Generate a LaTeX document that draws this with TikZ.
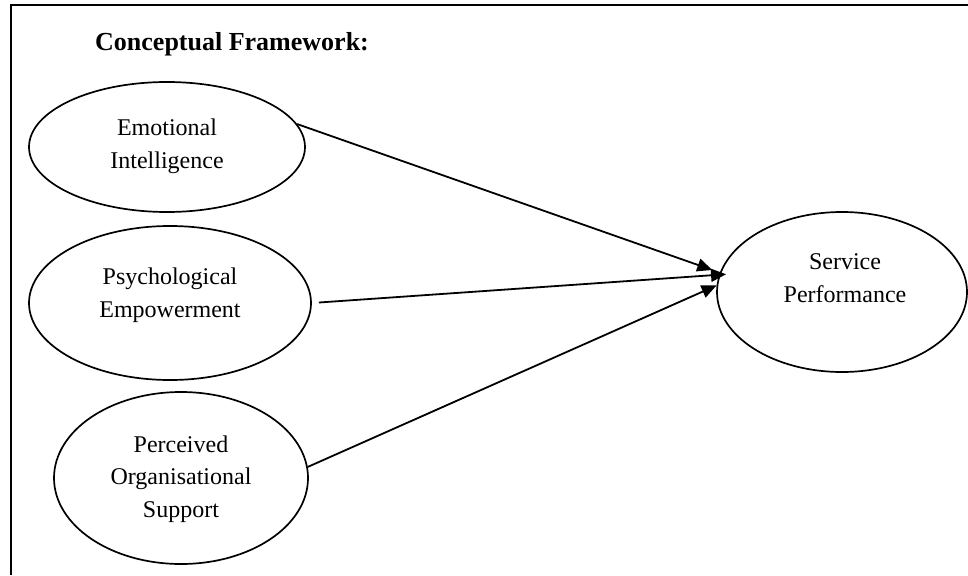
\documentclass[tikz,border=0pt]{standalone}
\usepackage{fontspec}
\setmainfont{Liberation Serif}
\usetikzlibrary{shapes.geometric,arrows.meta}
\tikzset{
  oval/.style={draw, ellipse, line width=1.7pt, inner sep=0pt},
  lbl/.style={align=center, anchor=base, font=\fontsize{24}{32.5}\selectfont, inner sep=0pt},
  link/.style={line width=1.8pt, -{Triangle[length=15pt,width=13pt]}},
}
\begin{document}
\begin{tikzpicture}[x=1pt,y=-1pt]
\useasboundingbox (0,0) rectangle (968,575);
% frame
\draw[line width=2pt] (11,575) -- (11,5) -- (968,5);
% title
\node[anchor=base west, inner sep=0pt, font=\fontsize{26}{30}\selectfont\bfseries] (title) at (95,51) {Conceptual Framework:};
% ellipses
\node[oval, minimum width=276pt, minimum height=130pt] (ei) at (167,147) {};
\node[oval, minimum width=282pt, minimum height=154pt] (pe) at (170,303) {};
\node[oval, minimum width=254pt, minimum height=172pt] (pos) at (181,478) {};
\node[oval, minimum width=250pt, minimum height=160pt] (sp) at (842,292) {};
% labels
\node[lbl] (eit) at (167,168) {Emotional\\Intelligence};
\node[lbl] (pet) at (170,317) {Psychological\\Empowerment};
\node[lbl] (post) at (181,517) {Perceived\\Organisational\\Support};
\node[lbl] (spt) at (845,302) {Service\\Performance};
% connectors
\draw[link, shorten >=8pt] (ei.10.5) -- (sp.171);
\draw[link, shorten <=7pt, shorten >=-7pt] (pe.east) -- (sp.172.6);
\draw[link] (pos.5.6) -- (sp.177.7);
\end{tikzpicture}
\end{document}
